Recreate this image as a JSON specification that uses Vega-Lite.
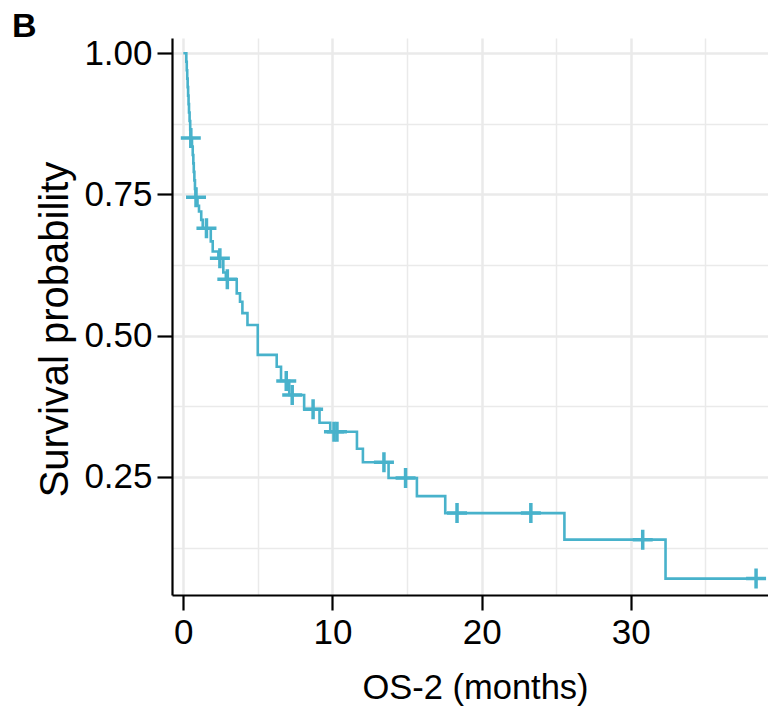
{
  "$schema": "https://vega.github.io/schema/vega-lite/v6.json",
  "width": 596,
  "height": 557,
  "autosize": {"type": "none"},
  "padding": {"left": 172, "top": 38, "right": 0, "bottom": 113},
  "background": "white",
  "title": {"text": "B", "anchor": "start", "frame": "group", "font": "Liberation Sans", "fontSize": 34, "fontWeight": "bold", "color": "black", "dx": -160, "dy": 35, "offset": 0, "baseline": "alphabetic"},
  "datasets": {
    "curve": [
      {"t": 0, "s": 1.0}, {"t": 0.2, "s": 0.985}, {"t": 0.23, "s": 0.97}, {"t": 0.26, "s": 0.955},
      {"t": 0.29, "s": 0.94}, {"t": 0.32, "s": 0.925}, {"t": 0.35, "s": 0.91}, {"t": 0.38, "s": 0.895},
      {"t": 0.42, "s": 0.88}, {"t": 0.46, "s": 0.865}, {"t": 0.5, "s": 0.85}, {"t": 0.58, "s": 0.835},
      {"t": 0.63, "s": 0.82}, {"t": 0.67, "s": 0.805}, {"t": 0.7, "s": 0.79}, {"t": 0.74, "s": 0.775},
      {"t": 0.78, "s": 0.76}, {"t": 0.82, "s": 0.745}, {"t": 0.95, "s": 0.73}, {"t": 1.05, "s": 0.72},
      {"t": 1.2, "s": 0.705}, {"t": 1.3, "s": 0.69}, {"t": 1.84, "s": 0.667}, {"t": 1.97, "s": 0.649},
      {"t": 2.35, "s": 0.637}, {"t": 2.68, "s": 0.612}, {"t": 2.85, "s": 0.6}, {"t": 3.58, "s": 0.575},
      {"t": 3.8, "s": 0.56}, {"t": 3.96, "s": 0.54}, {"t": 4.3, "s": 0.519}, {"t": 4.99, "s": 0.466},
      {"t": 6.26, "s": 0.445}, {"t": 6.55, "s": 0.42}, {"t": 7.1, "s": 0.395}, {"t": 8.1, "s": 0.37},
      {"t": 9.13, "s": 0.346}, {"t": 9.85, "s": 0.33}, {"t": 11.64, "s": 0.3}, {"t": 12.04, "s": 0.276},
      {"t": 13.76, "s": 0.248}, {"t": 15.66, "s": 0.216}, {"t": 17.56, "s": 0.186}, {"t": 25.55, "s": 0.139},
      {"t": 32.33, "s": 0.07}, {"t": 38.6, "s": 0.07}
    ],
    "censor": [
      {"t": 0.5, "s": 0.85}, {"t": 0.85, "s": 0.745}, {"t": 1.55, "s": 0.69}, {"t": 2.45, "s": 0.637},
      {"t": 2.95, "s": 0.6}, {"t": 6.9, "s": 0.42}, {"t": 7.3, "s": 0.395}, {"t": 8.7, "s": 0.37},
      {"t": 10.1, "s": 0.33}, {"t": 10.3, "s": 0.33}, {"t": 13.45, "s": 0.276}, {"t": 14.9, "s": 0.248},
      {"t": 18.35, "s": 0.186}, {"t": 23.3, "s": 0.186}, {"t": 30.8, "s": 0.139}, {"t": 38.4, "s": 0.07}
    ]
  },
  "layer": [
    {
      "data": {"name": "curve"},
      "mark": {"type": "line", "interpolate": "step-after", "color": "#48B2CB", "strokeWidth": 2.6},
      "encoding": {
        "x": {"field": "t", "type": "quantitative",
              "scale": {"domain": [-0.76, 39.2], "nice": false, "zero": false},
              "axis": {"orient": "top", "values": [5, 15, 25, 35], "labels": false, "ticks": false, "domain": false, "grid": true, "gridWidth": 1.5, "title": null}},
        "y": {"field": "s", "type": "quantitative",
              "scale": {"domain": [0.041, 1.027], "nice": false, "zero": false},
              "axis": {"orient": "right", "values": [0.125, 0.375, 0.625, 0.875], "labels": false, "ticks": false, "domain": false, "grid": true, "gridWidth": 1.5, "title": null}}
      }
    },
    {
      "data": {"name": "censor"},
      "mark": {"type": "point", "shape": "M-1,0H1M0,-1V1", "filled": false, "color": "#48B2CB", "strokeWidth": 3.5, "size": 400, "opacity": 1},
      "encoding": {
        "x": {"field": "t", "type": "quantitative",
              "scale": {"domain": [-0.76, 39.2], "nice": false, "zero": false},
              "axis": {"orient": "bottom", "values": [0, 10, 20, 30], "grid": true, "gridWidth": 2.5, "title": "OS-2 (months)", "titleFontSize": 34.5, "titleX": 303, "titleY": 103, "titleBaseline": "alphabetic", "titleAnchor": null}},
        "y": {"field": "s", "type": "quantitative",
              "scale": {"domain": [0.041, 1.027], "nice": false, "zero": false},
              "axis": {"orient": "left", "values": [0.25, 0.5, 0.75, 1.0], "format": ".2f", "grid": true, "gridWidth": 2.5, "title": "Survival probability", "titleFontSize": 40, "titleX": -105, "titleY": 291, "titleBaseline": "alphabetic", "titleAngle": 270}}
      }
    }
  ],
  "resolve": {"axis": {"x": "independent", "y": "independent"}},
  "config": {
    "view": {"stroke": null},
    "axis": {
      "domainColor": "black", "domainWidth": 2.2, "tickColor": "black", "tickWidth": 2.2, "tickSize": 15,
      "labelFont": "Liberation Sans", "labelFontSize": 35, "labelColor": "black", "labelPadding": 5,
      "titleFont": "Liberation Sans", "titleFontWeight": "normal", "titleColor": "black",
      "gridColor": "#EAEAEA", "labelOverlap": false, "labelFlush": false
    }
  }
}
